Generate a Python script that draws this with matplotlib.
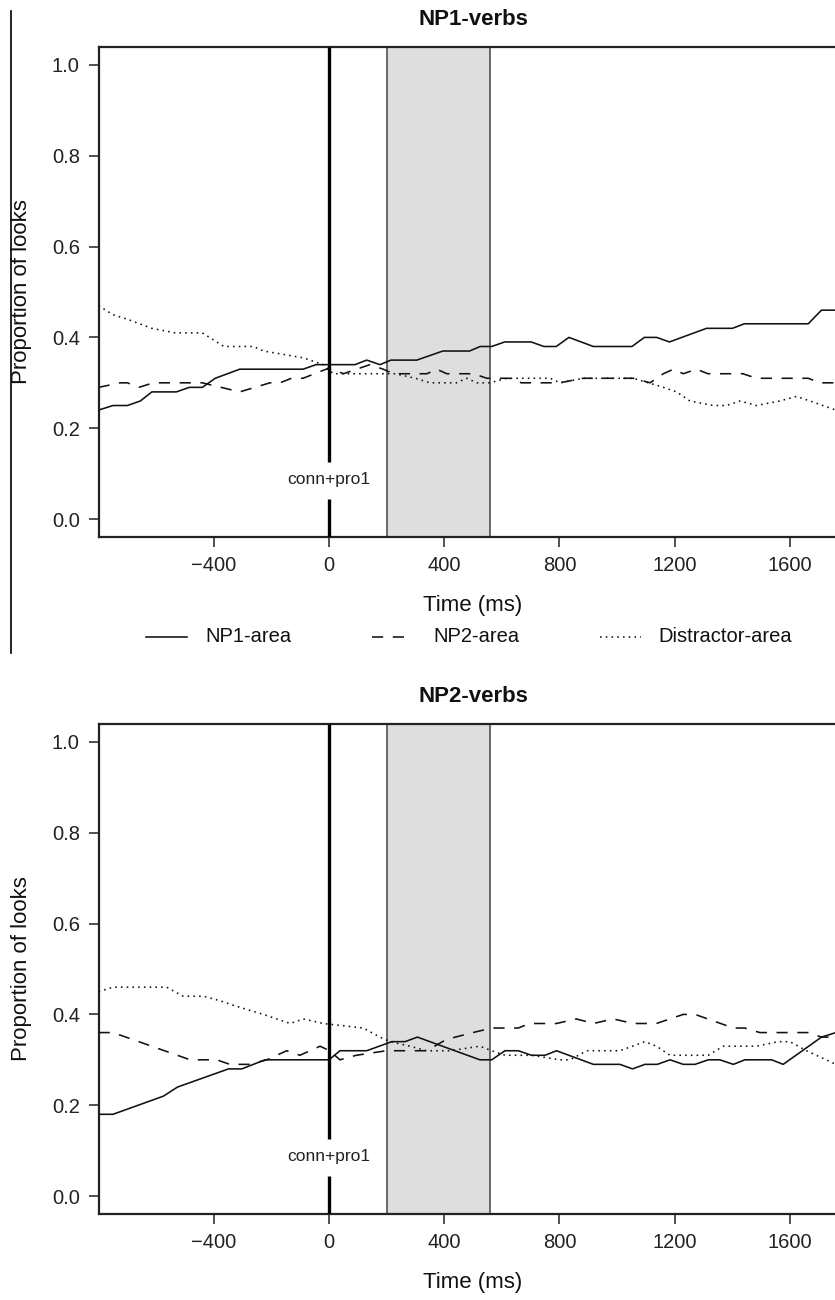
import matplotlib
matplotlib.use("Agg")
import matplotlib.pyplot as plt
from matplotlib.lines import Line2D

plt.rcParams['font.family'] = ['Liberation Sans', 'DejaVu Sans']

# ---- data (time in ms, proportion of looks) ----
# NP1-verbs panel
np1_np1_t = [-800, -750, -700, -655, -615, -530, -485, -440, -395, -310, -90, -45, 90, 131, 177,
             215, 305, 395, 488, 525, 565, 610, 702, 746, 789, 833, 918, 1052, 1095, 1138, 1182,
             1311, 1401, 1442, 1664, 1710, 1760]
np1_np1_v = [.24, .25, .25, .26, .28, .28, .29, .29, .31, .33, .33, .34, .34, .35, .34,
             .35, .35, .37, .37, .38, .38, .39, .39, .38, .38, .40, .38, .38, .40, .40, .39,
             .42, .42, .43, .43, .46, .46]

np1_np2_t = [-800, -725, -700, -660, -610, -440, -310, -205, -170, -130, -90, -10, 15, 50, 142,
             188, 224, 340, 374, 409, 502, 548, 628, 668, 801, 883, 1057, 1115, 1161, 1196,
             1230, 1276, 1316, 1437, 1484, 1664, 1705, 1760]
np1_np2_v = [.29, .30, .30, .29, .30, .30, .28, .30, .30, .31, .31, .33, .33, .32, .34,
             .33, .32, .32, .33, .32, .32, .31, .31, .30, .30, .31, .31, .30, .32, .33,
             .32, .33, .32, .32, .31, .31, .30, .30]

np1_dis_t = [-800, -750, -700, -615, -535, -440, -365, -262, -227, -135, -89, -20, 15, 50, 188,
             230, 300, 350, 443, 478, 513, 559, 617, 768, 802, 883, 1057, 1161, 1207, 1253,
             1334, 1380, 1427, 1484, 1565, 1623, 1670, 1760]
np1_dis_v = [.47, .45, .44, .42, .41, .41, .38, .38, .37, .36, .355, .34, .32, .32, .32,
             .32, .31, .30, .30, .31, .30, .30, .31, .31, .30, .31, .31, .29, .28, .26,
             .25, .25, .26, .25, .26, .27, .26, .24]

# NP2-verbs panel
np2_np1_t = [-800, -750, -575, -526, -349, -303, -222, 0, 38, 131, 218, 264, 307, 524, 565,
             611, 657, 703, 750, 790, 918, 1010, 1054, 1097, 1140, 1184, 1230, 1271, 1317,
             1357, 1404, 1444, 1537, 1577, 1710, 1760]
np2_np1_v = [.18, .18, .22, .24, .28, .28, .30, .30, .32, .32, .34, .34, .35, .30, .30,
             .32, .32, .31, .31, .32, .29, .29, .28, .29, .29, .30, .29, .29, .30,
             .30, .29, .30, .30, .29, .35, .36]

np2_np2_t = [-800, -750, -482, -390, -344, -275, -216, -147, -101, -31, 2, 38, 95, 199, 339,
             408, 500, 565, 657, 697, 790, 859, 918, 987, 1056, 1137, 1230, 1271, 1404, 1444,
             1496, 1664, 1710, 1760]
np2_np2_v = [.36, .36, .30, .30, .29, .29, .30, .32, .31, .33, .32, .30, .31, .32, .32,
             .345, .36, .37, .37, .38, .38, .39, .38, .39, .38, .38, .40, .40, .37, .37,
             .36, .36, .35, .35]

np2_dis_t = [-800, -750, -564, -506, -436, -378, -332, -228, -135, -89, -20, 119, 177, 212, 281,
             339, 420, 524, 565, 611, 703, 802, 837, 895, 1010, 1097, 1137, 1184, 1317, 1369,
             1485, 1560, 1600, 1658, 1692, 1760]
np2_dis_v = [.45, .46, .46, .44, .44, .43, .42, .40, .38, .39, .38, .37, .35, .34, .33,
             .32, .32, .33, .32, .31, .31, .30, .30, .32, .32, .34, .33, .31, .31, .33,
             .33, .34, .34, .32, .31, .29]

window = (200, 560)          # shaded analysis window
onset_label = "conn+pro1"
xticks = [-400, 0, 400, 800, 1200, 1600]
yticks = [0.0, 0.2, 0.4, 0.6, 0.8, 1.0]
series_names = ["NP1-area", "NP2-area", "Distractor-area"]
styles = ['-', (0, (7, 6)), (0, (1, 2.6))]

W, H = 835, 1300
fig = plt.figure(figsize=(W / 100, H / 100), dpi=100)

left_px, right_px = 98.6, 847.4


def panel(top_px, title, series):
    bot_px = top_px + 490.4
    ax = fig.add_axes([left_px / W, 1 - bot_px / H, (right_px - left_px) / W, 490.4 / H])
    ax.axvspan(window[0], window[1], facecolor='#dedede', edgecolor='none', zorder=0)
    for xv in window:
        ax.axvline(xv, color='#444444', lw=1.1, zorder=1)
    for (t, v), ls in zip(series, styles):
        ax.plot(t, v, color='#111111', lw=1.15, linestyle=ls, zorder=3)
    # onset marker with a gap for its label
    ax.vlines(0, 0.125, 1.04, color='black', lw=2.4, zorder=4)
    ax.vlines(0, -0.04, 0.045, color='black', lw=2.4, zorder=4)
    ax.text(0, 0.086, onset_label, ha='center', va='center', fontsize=12.5, color='#222222')
    ax.set_xlim(-800, 1800)
    ax.set_ylim(-0.04, 1.04)
    ax.set_xticks(xticks)
    ax.set_yticks(yticks)
    ax.set_yticklabels([f"{y:.1f}" for y in yticks])
    ax.set_xticklabels([str(x).replace('-', '\u2212') for x in xticks])
    ax.tick_params(direction='out', length=7.5, width=1.1, labelsize=14.5, colors='#222222', pad=6)
    for s in ax.spines.values():
        s.set_linewidth(1.6)
        s.set_color('#222222')
    cx = (left_px + right_px) / 2 / W
    fig.text(cx, 1 - (top_px - 27) / H, title, ha='center', va='center',
             fontsize=16, fontweight='bold', color='#111111')
    fig.text(cx, 1 - (bot_px + 68) / H, "Time (ms)", ha='center', va='center',
             fontsize=16, color='#111111')
    fig.text(22 / W, 1 - (top_px + bot_px) / 2 / H, "Proportion of looks", rotation=90,
             ha='center', va='center', fontsize=16, color='#111111')
    return ax


panel(46.8, "NP1-verbs", [(np1_np1_t, np1_np1_v), (np1_np2_t, np1_np2_v), (np1_dis_t, np1_dis_v)])
panel(723.8, "NP2-verbs", [(np2_np1_t, np2_np1_v), (np2_np2_t, np2_np2_v), (np2_dis_t, np2_dis_v)])

# legend under the first panel
leg_y = 1 - 637 / H
for (x0, x1, tx), name, ls in zip([(146, 187, 205), (372, 410, 433), (600, 641, 658)],
                                  series_names, styles):
    fig.add_artist(Line2D([x0 / W, x1 / W], [leg_y, leg_y], transform=fig.transFigure,
                          color='#111111', lw=1.15, linestyle=ls))
    fig.text(tx / W, leg_y, name, ha='left', va='center', fontsize=14.5, color='#111111')

# border line left over from the original page crop
fig.add_artist(Line2D([11 / W, 11 / W], [1 - 11 / H, 1 - 653 / H], transform=fig.transFigure,
                      color='black', lw=1.2))

fig.savefig("out.png", dpi=100)
